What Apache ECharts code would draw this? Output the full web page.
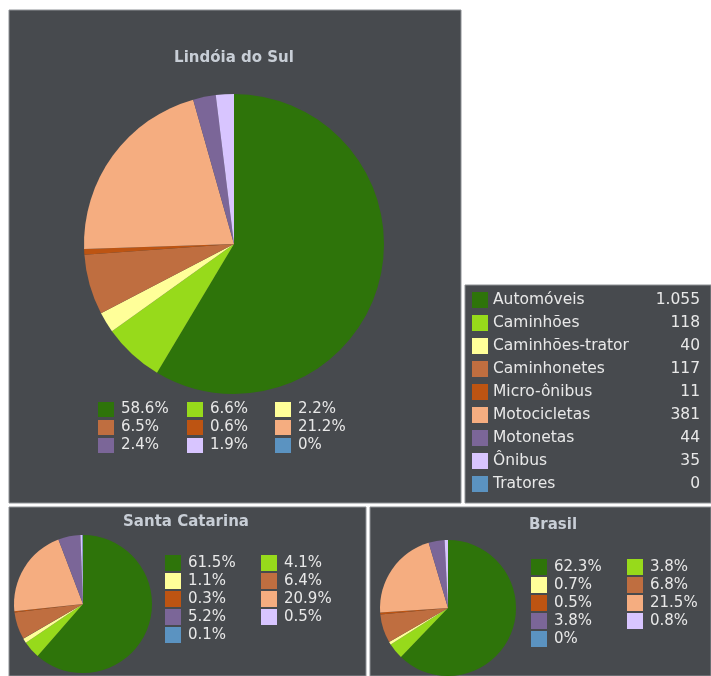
<!DOCTYPE html>
<html>
<head>
<meta charset="utf-8">
<script src="https://cdn.jsdelivr.net/npm/echarts@6/dist/echarts.min.js"></script>
<style>
  html, body { margin: 0; padding: 0; background: #fff; }
  #chart { width: 711px; height: 676px; }
</style>
</head>
<body>
<div id="chart"></div>
<script>
// categorias e cores
const categorias = ['Automóveis', 'Caminhões', 'Caminhões-trator', 'Caminhonetes', 'Micro-ônibus',
                    'Motocicletas', 'Motonetas', 'Ônibus', 'Tratores'];
const cores = ['#2e740a', '#97da1b', '#ffff99', '#bf6e40', '#bd5412', '#f5ad80', '#7b6698', '#d8c5ff', '#5b93c1'];

// Lindóia do Sul (frota)
const lindoiaValores = [1055, 118, 40, 117, 11, 381, 44, 35, 0];
const lindoiaRotulos = ['1.055', '118', '40', '117', '11', '381', '44', '35', '0'];
const lindoiaPct = ['58.6%', '6.6%', '2.2%', '6.5%', '0.6%', '21.2%', '2.4%', '1.9%', '0%'];

// Santa Catarina e Brasil (percentuais)
const scPct = [61.5, 4.1, 1.1, 6.4, 0.3, 20.9, 5.2, 0.5, 0.1];
const brPct = [62.3, 3.8, 0.7, 6.8, 0.5, 21.5, 3.8, 0.8, 0];

const BG = '#474a4e';
const FONT = '"DejaVu Sans", Verdana, sans-serif';
const TXT = '#e8e8e8';

const pieData = vals => vals.map((v, i) => ({ name: categorias[i], value: v, itemStyle: { color: cores[i] } }));
const pctText = v => (v === 0 ? '0' : v.toFixed(1)) + '%';

function pie(center, radius, vals) {
  return {
    type: 'pie', center, radius,
    startAngle: 90, clockwise: true,
    label: { show: false }, labelLine: { show: false },
    emphasis: { disabled: true },
    itemStyle: { borderWidth: 0 },
    data: pieData(vals)
  };
}

// legenda em coluna (vertical), texto = percentual
function colLegend(idx, left, top, labels, h, gap) {
  return {
    orient: 'vertical', left, top, padding: 0,
    itemWidth: 16, itemHeight: h, itemGap: gap,
    icon: 'rect', selectedMode: false,
    data: idx.map(i => categorias[i]),
    formatter: name => labels[categorias.indexOf(name)],
    textStyle: { color: TXT, fontSize: 15, fontFamily: FONT, padding: [0, 0, 0, 2] }
  };
}

const tituloEstilo = { color: '#c8ced6', fontSize: 15, fontWeight: 'bold', fontFamily: FONT };

const chart = echarts.init(document.getElementById('chart'));
chart.setOption({
  animation: false,
  backgroundColor: '#fff',
  graphic: [
    { type: 'rect', shape: { x: 9, y: 10, width: 452, height: 493 }, style: { fill: BG, stroke: '#8d9094', lineWidth: 1 }, z: -10 },
    { type: 'rect', shape: { x: 465, y: 285, width: 246, height: 218 }, style: { fill: BG, stroke: '#8d9094', lineWidth: 1 }, z: -10 },
    { type: 'rect', shape: { x: 9, y: 507, width: 357, height: 169 }, style: { fill: BG, stroke: '#8d9094', lineWidth: 1 }, z: -10 },
    { type: 'rect', shape: { x: 370, y: 507, width: 341, height: 169 }, style: { fill: BG, stroke: '#8d9094', lineWidth: 1 }, z: -10 }
  ],
  title: [
    { text: 'Lindóia do Sul', left: 234, top: 51, textAlign: 'center', padding: 0, textStyle: tituloEstilo },
    { text: 'Santa Catarina', left: 186, top: 515, textAlign: 'center', padding: 0, textStyle: tituloEstilo },
    { text: 'Brasil', left: 553, top: 518, textAlign: 'center', padding: 0, textStyle: tituloEstilo }
  ],
  legend: [
    // Lindóia: três colunas
    colLegend([0, 3, 6], 98, 402, lindoiaPct, 15, 3),
    colLegend([1, 4, 7], 187, 402, lindoiaPct, 15, 3),
    colLegend([2, 5, 8], 275, 402, lindoiaPct, 15, 3),
    // Santa Catarina: duas colunas
    colLegend([0, 2, 4, 6, 8], 165, 555, scPct.map(pctText), 16, 2),
    colLegend([1, 3, 5, 7], 261, 555, scPct.map(pctText), 16, 2),
    // Brasil: duas colunas
    colLegend([0, 2, 4, 6, 8], 531, 559, brPct.map(pctText), 16, 2),
    colLegend([1, 3, 5, 7], 627, 559, brPct.map(pctText), 16, 2),
    // tabela com quantidades
    {
      orient: 'vertical', left: 472, top: 292, padding: 0,
      itemWidth: 16, itemHeight: 16, itemGap: 7,
      icon: 'rect', selectedMode: false,
      data: categorias,
      formatter: name => `{n|${name}}{v|${lindoiaRotulos[categorias.indexOf(name)]}}`,
      textStyle: {
        color: TXT, fontSize: 15.5, fontFamily: FONT,
        rich: {
          n: { width: 150, color: TXT, fontSize: 15.5, fontFamily: FONT },
          v: { width: 57, align: 'right', color: TXT, fontSize: 15.5, fontFamily: FONT }
        }
      }
    }
  ],
  series: [
    pie([234, 244], 150, lindoiaValores),
    pie([83, 604], 69, scPct),
    pie([448, 608], 68, brPct)
  ]
});
</script>
</body>
</html>
